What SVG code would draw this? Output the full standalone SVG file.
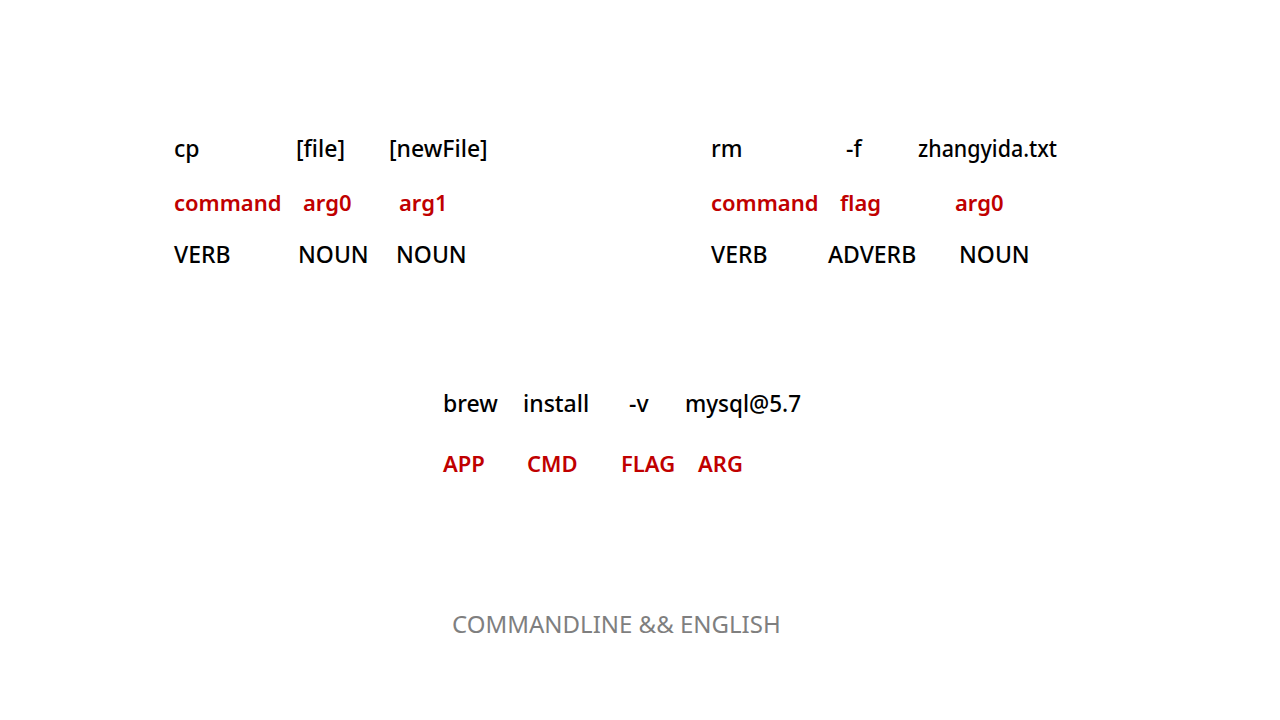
<svg xmlns="http://www.w3.org/2000/svg" width="1280" height="720" viewBox="0 0 1280 720">
<style>
text{font-family:"Noto Sans","Open Sans",sans-serif;font-size:22px}
.k{fill:#000;font-size:23px;font-weight:500}
.r{fill:#c00000;font-weight:600}
.f{fill:#7f7f7f;font-size:24px}
</style>
<rect width="1280" height="720" fill="#fff"/>
<g id="cp-block">
<text class="k" x="174" y="157">cp</text>
<text class="k" x="296" y="157">[file]</text>
<text class="k" x="389" y="157">[newFile]</text>
<text class="r" x="174" y="211">command</text>
<text class="r" x="303" y="211">arg0</text>
<text class="r" x="399" y="211">arg1</text>
<text class="k" x="174" y="263">VERB</text>
<text class="k" x="298" y="263">NOUN</text>
<text class="k" x="396" y="263">NOUN</text>
</g>
<g id="rm-block">
<text class="k" x="711" y="157">rm</text>
<text class="k" x="846" y="157">-f</text>
<text class="k" x="918" y="157" textLength="139" lengthAdjust="spacingAndGlyphs">zhangyida.txt</text>
<text class="r" x="711" y="211">command</text>
<text class="r" x="840" y="211">flag</text>
<text class="r" x="955" y="211">arg0</text>
<text class="k" x="711" y="263">VERB</text>
<text class="k" x="828" y="263">ADVERB</text>
<text class="k" x="959" y="263">NOUN</text>
</g>
<g id="brew-block">
<text class="k" x="443" y="412">brew</text>
<text class="k" x="523" y="412">install</text>
<text class="k" x="629" y="412">-v</text>
<text class="k" x="685" y="412" textLength="116" lengthAdjust="spacingAndGlyphs">mysql@5.7</text>
<text class="r" x="443" y="472">APP</text>
<text class="r" x="527" y="472">CMD</text>
<text class="r" x="621" y="472">FLAG</text>
<text class="r" x="698" y="472">ARG</text>
</g>
<g id="footer">
<text class="f" x="452" y="633">COMMANDLINE &amp;&amp; ENGLISH</text>
</g>
</svg>
